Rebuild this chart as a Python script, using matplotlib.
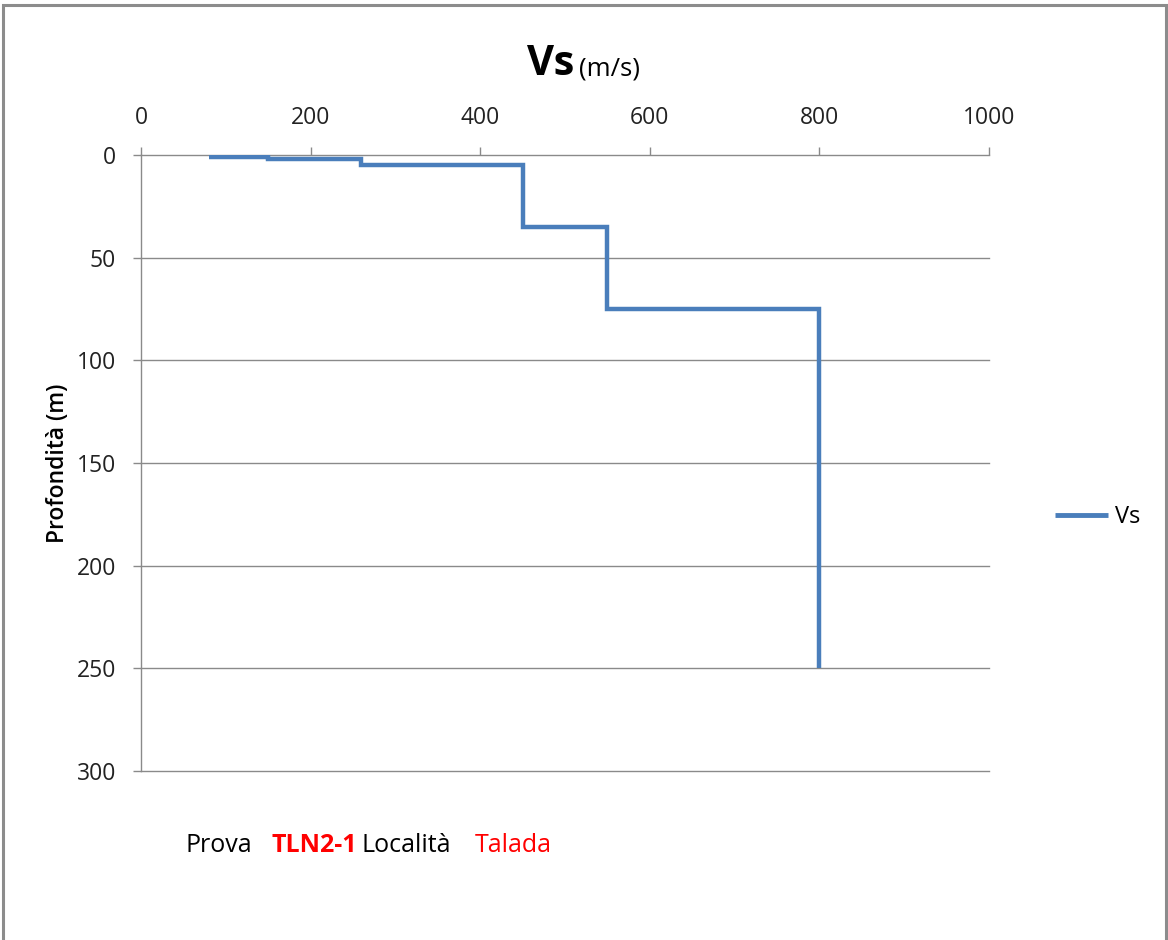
import matplotlib
matplotlib.use('Agg')
from matplotlib import pyplot as plt
from matplotlib.patches import Rectangle

# velocity profile (m/s) vs depth (m), step points
vs = [80, 150, 150, 260, 260, 450, 450, 550, 550, 800, 800]
depth = [1, 1, 2, 2, 5, 5, 35, 35, 75, 75, 250]
x_ticks = [0, 200, 400, 600, 800, 1000]
y_ticks = [0, 50, 100, 150, 200, 250, 300]

plt.rcParams['font.family'] = ['Open Sans', 'DejaVu Sans']

fig = plt.figure(figsize=(11.68, 9.4), dpi=100)
ax = fig.add_axes([141 / 1168, 1 - 771 / 940, (989 - 141) / 1168, (771 - 155) / 940])

# chart area border
fig.patches.append(Rectangle((3 / 1168, -0.01), 1163 / 1168, 1 - 5 / 940 + 0.01,
                             transform=fig.transFigure, fill=False,
                             edgecolor='#8c8c8c', linewidth=2.2))

for t in y_ticks[1:]:
    ax.axhline(t, color='#8a8a8a', linewidth=1.0, zorder=1, clip_on=False)

ax.plot(vs, depth, color='#4A7EBB', linewidth=3.2, label='Vs', zorder=3,
        solid_joinstyle='miter', solid_capstyle='butt')

ax.set_xlim(0, 1000)
ax.set_ylim(300, 0)
ax.xaxis.tick_top()
ax.set_xticks(x_ticks)
ax.set_yticks(y_ticks)
ax.tick_params(axis='both', labelsize=16.5, colors='#8a8a8a', labelcolor='#222222',
               length=6, width=1.0, direction='out', pad=12)
for s in ['right', 'bottom']:
    ax.spines[s].set_visible(False)
for s in ['left', 'top']:
    ax.spines[s].set_color('#8a8a8a')
    ax.spines[s].set_linewidth(1.0)

ax.set_ylabel('Profondità (m)', fontsize=16.5, fontweight='semibold', labelpad=5)

fig.text(574 / 1168, 1 - 75 / 940, 'Vs', fontsize=30, fontweight='bold', ha='right', va='baseline')
fig.text(579 / 1168, 1 - 75 / 940, '(m/s)', fontsize=18.5, ha='left', va='baseline')

leg = fig.legend(loc='center left', bbox_to_anchor=(1055 / 1168, 1 - 517 / 940),
                 frameon=False, fontsize=17, handlelength=2.25, handletextpad=0.3,
                 borderaxespad=0, borderpad=0)
for h in leg.get_lines():
    h.set_linewidth(3.5)

fig.text(185 / 1168, 1 - 846 / 940, 'Prova', fontsize=18, va='center')
fig.text(272 / 1168, 1 - 846 / 940, 'TLN2-1', fontsize=18, fontweight='bold', color='red', va='center')
fig.text(362 / 1168, 1 - 846 / 940, 'Località', fontsize=18, va='center')
fig.text(475 / 1168, 1 - 846 / 940, 'Talada', fontsize=18, color='red', va='center')

plt.savefig('out.png', dpi=100)
